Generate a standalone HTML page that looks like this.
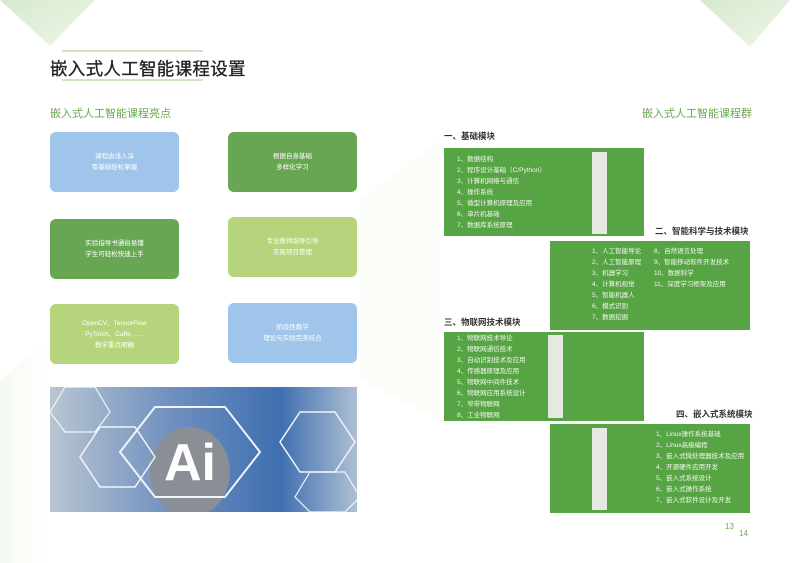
<!DOCTYPE html>
<html><head><meta charset="utf-8"><style>
body{margin:0;width:800px;height:563px;position:relative;overflow:hidden;background:#fff;font-family:"Liberation Sans","Noto Sans CJK SC",sans-serif}
.a{position:absolute}
.card{position:absolute;width:129px;height:60px;border-radius:6px;color:#fff;font-size:6.5px;line-height:11px;text-align:center;display:flex;align-items:center;justify-content:center}
.bx{position:absolute;background:#57a444;color:#f2f8ee;font-size:6.5px;line-height:11px}
.st{position:absolute;background:#e6e8e2;width:15px}
.h{position:absolute;font-size:8.5px;font-weight:bold;color:#333;white-space:nowrap}
.l{position:absolute;white-space:nowrap}
</style></head><body>
<svg class="a" style="left:0;top:0" width="800" height="563">
<defs><linearGradient id="g" x1="0" y1="0" x2="1" y2="1"><stop offset="0" stop-color="#d7e9cc"/><stop offset="1" stop-color="#eef6ea"/></linearGradient>
<linearGradient id="g2" x1="0" y1="0" x2="1" y2="0"><stop offset="0" stop-color="#f3f8f0"/><stop offset="1" stop-color="#fff" stop-opacity="0"/></linearGradient></defs>
<polygon points="0,0 95,0 50,46" fill="url(#g)"/>
<polygon points="700,0 790,0 750,47" fill="url(#g)"/>
<polygon points="0,380 60,330 60,563 0,563" fill="url(#g2)"/>
<polygon points="360,200 440,140 440,420 360,380" fill="#fbfdf9"/>
<line x1="62" y1="51" x2="203" y2="51" stroke="#9fc98c" stroke-width="1"/>
<line x1="62" y1="80" x2="203" y2="80" stroke="#9fc98c" stroke-width="1"/>
</svg>
<div class="a" style="left:50px;top:56px;font-size:17.5px;color:#222;letter-spacing:0.3px;-webkit-text-stroke:0.3px #222">嵌入式人工智能课程设置</div>
<div class="a" style="left:50px;top:105px;font-size:11px;color:#6aa84f">嵌入式人工智能课程亮点</div>
<div class="a" style="left:642px;top:105px;font-size:11px;color:#6aa84f">嵌入式人工智能课程群</div>

<div class="card" style="left:50px;top:132px;background:#9fc5ea">课程由浅入深<br>零基础轻松掌握</div>
<div class="card" style="left:228px;top:132px;background:#68a653">根据自身基础<br>多样化学习</div>
<div class="card" style="left:50px;top:219px;background:#68a653">实验指导书通俗易懂<br>学生可轻松快速上手</div>
<div class="card" style="left:228px;top:217px;background:#b5d47c">专业教师指导引导<br>实现项目管理</div>
<div class="card" style="left:50px;top:304px;background:#b5d47c">OpenCV、TensorFlow<br>PyTorch、Caffe……<br>教学重点明确</div>
<div class="card" style="left:228px;top:303px;background:#9fc5ea">阶段性教学<br>理论与实践完美结合</div>

<svg class="a" style="left:50px;top:387px" width="307" height="125">
<defs><linearGradient id="im" x1="0" y1="0" x2="1" y2="0"><stop offset="0" stop-color="#b9c5d2"/><stop offset="0.4" stop-color="#6e8fbf"/><stop offset="0.75" stop-color="#3f6fb0"/><stop offset="1" stop-color="#aebfd4"/></linearGradient></defs>
<rect width="307" height="125" fill="url(#im)"/>
<ellipse cx="140" cy="85" rx="40" ry="45" fill="#8a8f96"/>
<g fill="none" stroke="#f2f5f8" stroke-width="2">
<polygon points="105,20 175,20 210,65 175,110 105,110 70,65"/>
<polygon points="50,40 85,40 105,70 85,100 50,100 30,70" stroke-width="1.5"/>
<polygon points="250,25 285,25 305,55 285,85 250,85 230,55" stroke-width="1.5"/>
<polygon points="260,85 295,85 310,110 295,125 260,125 245,110" stroke-width="1.2"/>
<polygon points="15,0 45,0 60,25 45,45 15,45 0,25" stroke-width="1.2"/>
</g>
<text x="140" y="93" font-family="Liberation Sans" font-weight="bold" font-size="52" fill="#fff" text-anchor="middle">Ai</text>
</svg>

<div class="h" style="left:444px;top:130px">一、基础模块</div>
<div class="bx" style="left:444px;top:148px;width:200px;height:88px"></div>
<div class="st" style="left:592px;top:152px;height:82px"></div>
<div class="l bx" style="left:457px;top:154px;background:none">1、数据结构<br>2、程序设计基础（C/Python）<br>3、计算机网络与通信<br>4、操作系统<br>5、微型计算机原理及应用<br>6、单片机基础<br>7、数据库系统原理</div>

<div class="h" style="left:655px;top:225px">二、智能科学与技术模块</div>
<div class="bx" style="left:550px;top:241px;width:200px;height:89px"></div>
<div class="l bx" style="left:592px;top:246px;background:none">1、人工智能导论<br>2、人工智能原理<br>3、机器学习<br>4、计算机视觉<br>5、智能机器人<br>6、模式识别<br>7、数据挖掘</div>
<div class="l bx" style="left:654px;top:246px;background:none">8、自然语言处理<br>9、智能移动软件开发技术<br>10、数据科学<br>11、深度学习框架及应用</div>

<div class="h" style="left:444px;top:316px">三、物联网技术模块</div>
<div class="bx" style="left:444px;top:332px;width:200px;height:89px"></div>
<div class="st" style="left:548px;top:335px;height:83px"></div>
<div class="l bx" style="left:457px;top:333px;background:none">1、物联网技术导论<br>2、物联网通信技术<br>3、自动识别技术及应用<br>4、传感器原理及应用<br>5、物联网中间件技术<br>6、物联网应用系统设计<br>7、窄带物联网<br>8、工业物联网</div>

<div class="h" style="left:676px;top:408px">四、嵌入式系统模块</div>
<div class="bx" style="left:550px;top:424px;width:200px;height:89px"></div>
<div class="st" style="left:592px;top:428px;height:82px"></div>
<div class="l bx" style="left:656px;top:429px;background:none">1、Linux操作系统基础<br>2、Linux高级编程<br>3、嵌入式微处理器技术及应用<br>4、开源硬件应用开发<br>5、嵌入式系统设计<br>6、嵌入式操作系统<br>7、嵌入式软件设计及开发</div>

<div class="a" style="left:725px;top:522px;font-size:8px;color:#6aa84f">13</div>
<div class="a" style="left:739px;top:529px;font-size:8px;color:#6aa84f">14</div>
</body></html>
